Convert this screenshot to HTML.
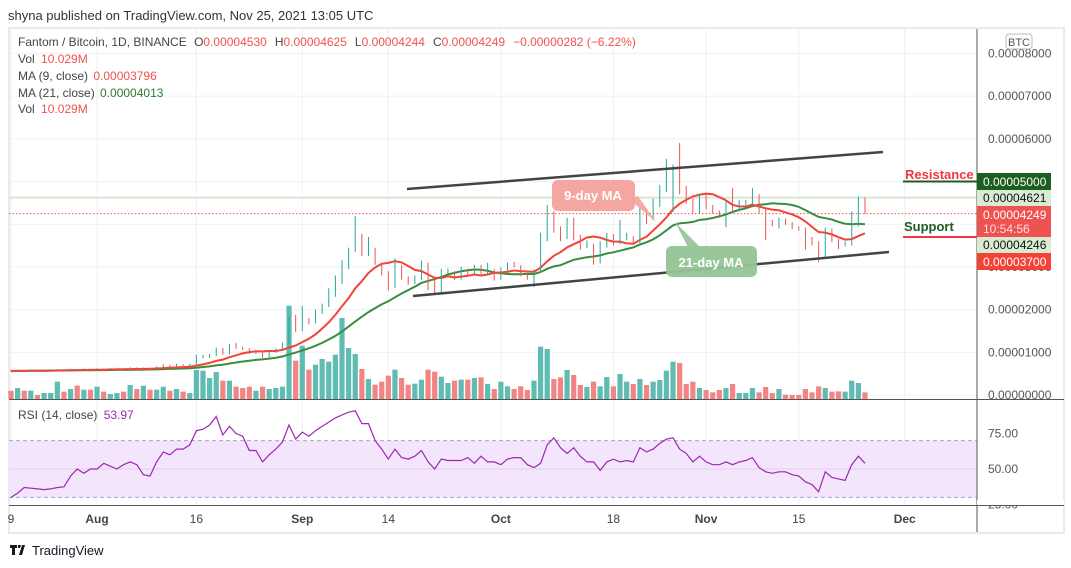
<!DOCTYPE html>
<html><head><meta charset="utf-8"><style>
html,body{margin:0;padding:0;background:#fff;}
svg{display:block;font-family:"Liberation Sans",sans-serif;}
</style></head><body>
<svg id="chart" width="1071" height="568" viewBox="0 0 1071 568" xmlns="http://www.w3.org/2000/svg">
<text x="8" y="20" font-size="13" fill="#333">shyna published on TradingView.com, Nov 25, 2021 13:05 UTC</text>
<rect x="9" y="28" width="1055" height="505" fill="#fff" stroke="#e8eaef" stroke-width="2"/>
<g id="grid"></g>
<g id="vol"></g>
<g id="guides"></g>
<g id="ma"></g>
<g id="candles"></g>
<g id="draw"></g>
<g id="rsi"></g>
<g id="axes"></g>
<g font-size="12">
<text x="18" y="46" fill="#444">Fantom / Bitcoin, 1D, BINANCE <tspan fill="#444" dx="4">O</tspan><tspan fill="#ef5350">0.00004530</tspan><tspan fill="#444" dx="8">H</tspan><tspan fill="#ef5350">0.00004625</tspan><tspan fill="#444" dx="8">L</tspan><tspan fill="#ef5350">0.00004244</tspan><tspan fill="#444" dx="8">C</tspan><tspan fill="#ef5350">0.00004249</tspan><tspan fill="#ef5350" dx="8">−0.00000282 (−6.22%)</tspan></text>
<text x="18" y="63" fill="#444">Vol <tspan fill="#ef5350" dx="3">10.029M</tspan></text>
<text x="18" y="80" fill="#444">MA (9, close) <tspan fill="#ef5350" dx="2">0.00003796</tspan></text>
<text x="18" y="97" fill="#444">MA (21, close) <tspan fill="#2e7d32" dx="2">0.00004013</tspan></text>
<text x="18" y="113" fill="#444">Vol <tspan fill="#ef5350" dx="3">10.029M</tspan></text>
<text x="18" y="419" fill="#444">RSI (14, close) <tspan fill="#9c27b0" dx="3">53.97</tspan></text>
</g>
<g>
<path d="M10 545h7v3h-2v7h-3v-7h-2z M18 545h3l-1 3h-2z M22 545h3l-3 10h-3z" fill="#131722"/>
<text x="32" y="555" font-size="13" fill="#131722">TradingView</text>
</g>
<g>
<line x1="407" y1="189" x2="883" y2="152" stroke="#444" stroke-width="2.5"/>
<line x1="413" y1="296" x2="889" y2="252" stroke="#444" stroke-width="2.5"/>
</g>
<g>
<path d="M630 200 L656 222 L638 196 Z" fill="#f6a19b" opacity="0.9"/>
<rect x="552" y="180" width="83" height="31" rx="6" fill="#f6a19b" opacity="0.95"/>
<text x="593" y="200" font-size="13" font-weight="bold" fill="#fff" text-anchor="middle">9-day MA</text>
</g>
<g>
<path d="M675 222 L700 247 L688 247 Z" fill="#93c493" opacity="0.9"/>
<rect x="666" y="246" width="91" height="31" rx="6" fill="#93c493" opacity="0.95"/>
<text x="711" y="267" font-size="13" font-weight="bold" fill="#fff" text-anchor="middle">21-day MA</text>
</g>
<g>
<line x1="903" x2="977" y1="181.5" y2="181.5" stroke="#1b5e20" stroke-width="2"/>
<text x="905" y="179" font-size="13" font-weight="bold" fill="#f23645">Resistance</text>
</g>
<g>
<line x1="903" x2="977" y1="237" y2="237" stroke="#f23645" stroke-width="2"/>
<text x="904" y="231" font-size="13" font-weight="bold" fill="#1b5e20">Support</text>
</g>
<g font-size="12">
<rect x="977" y="173" width="74" height="17" fill="#1b5e20"/><text x="983" y="186" fill="#fff">0.00005000</text>
<rect x="977" y="190" width="74" height="16" fill="#d9ebd3"/><text x="983" y="202" fill="#111">0.00004621</text>
<rect x="977" y="206" width="74" height="31" fill="#ef5350"/><text x="983" y="219" fill="#fff">0.00004249</text><text x="983" y="233" fill="#fde">10:54:56</text>
<rect x="977" y="237" width="74" height="16" fill="#d9ebd3"/><text x="983" y="249" fill="#111">0.00004246</text>
<rect x="977" y="253" width="74" height="17" fill="#f44336"/><text x="983" y="266" fill="#fff">0.00003700</text>
</g>
<g>
<rect x="1006" y="34" width="26" height="15" rx="3" fill="#fff" stroke="#bbb"/>
<text x="1019" y="46" font-size="11" fill="#555" text-anchor="middle">BTC</text>
</g>
</svg>
<script>
var dayLabels=["9","Aug","16","Sep","14","Oct","18","Nov","15","Dec"];
var dayIdx=[0,13,28,44,57,74,91,105,119,135];
var priceTicks=[0,1000,2000,3000,4000,5000,6000,7000,8000];
var closes=[560,570,565,575,570,580,585,590,580,595,590,600,595,605,600,610,615,610,630,620,625,615,650,690,670,700,680,700,870,880,920,1080,960,1170,1100,1080,980,1020,890,1000,1070,1190,1690,1520,1780,1700,1940,2100,2340,2650,3000,3400,3560,3320,3420,3090,2880,2530,3000,2740,2650,2740,3070,2690,2390,2860,2880,2750,2930,2820,3000,2860,2900,2740,2930,3040,3020,2810,2740,2900,3750,4260,3890,3680,4050,3700,3470,3500,3110,3510,3750,3560,3680,3700,3560,4330,4150,4430,4820,5200,5300,4800,4540,4290,4680,4400,4290,4220,4500,4330,4500,4520,4680,4290,4030,4000,4100,4030,3910,3890,3650,3540,3210,3890,3630,3510,3530,4000,4530,4249];
var opens=[570,560,570,565,575,570,580,585,590,580,595,590,600,595,605,600,610,615,610,630,620,625,615,650,690,670,700,680,700,870,880,920,1080,960,1170,1100,1080,980,1020,890,1000,1070,1190,1690,1520,1780,1700,1940,2100,2340,2650,3000,3400,3560,3320,3420,3090,2880,2530,3000,2740,2650,2740,3070,2690,2390,2860,2880,2750,2930,2820,3000,2860,2900,2740,2930,3040,3020,2810,2740,2900,3750,4260,3890,3680,4050,3700,3470,3500,3110,3510,3750,3560,3680,3700,3560,4330,4150,4430,4820,5200,5300,4800,4540,4290,4680,4400,4290,4220,4500,4330,4500,4520,4680,4290,4030,4000,4100,4030,3910,3890,3650,3540,3210,3890,3630,3510,3530,4000,4530];
var highs=[600,590,585,595,590,600,605,610,605,615,610,620,615,625,620,630,640,630,650,645,645,640,670,720,710,730,720,730,940,940,960,1110,1100,1200,1220,1130,1100,1060,1040,1030,1090,1230,1850,1880,2080,1800,2000,2140,2500,2800,3160,3450,4190,3770,3700,3450,3100,2900,3200,3050,2780,2800,3150,3100,2720,2950,2960,2900,3000,2960,3050,3050,3100,2950,2990,3100,3120,3040,2830,2950,3800,4450,4300,3950,4150,4150,3750,3620,3540,3600,3800,3770,4100,3800,3720,4400,4350,4600,4920,5530,5400,5900,4900,4600,4720,4700,4450,4320,4550,4850,4560,4570,4850,4700,4350,4100,4150,4130,4050,3950,3920,3700,3600,3920,3900,3650,3600,4300,4650,4625];
var lows=[545,550,550,555,555,560,565,570,565,570,575,580,580,585,585,590,595,595,600,605,605,600,605,640,655,660,665,670,690,860,870,910,940,950,1080,1050,960,960,870,880,990,1060,1180,1480,1500,1650,1680,1900,2060,2300,2600,2950,3350,3250,3250,3050,2800,2450,2500,2700,2580,2600,2700,2450,2350,2380,2800,2700,2700,2780,2800,2830,2830,2680,2700,2900,2990,2780,2700,2530,2880,3600,3800,3600,3650,3620,3400,3440,3050,3080,3450,3500,3530,3620,3520,3540,4000,4100,4400,4750,4280,4700,4480,4250,4250,4350,4250,4150,3930,4300,4300,4450,4480,4250,3630,3950,3900,3980,3880,3850,3400,3500,3110,3200,3580,3420,3480,3500,3950,4244];
var volumes=[25,33,25,25,12,18,18,52,22,30,40,28,28,37,22,15,18,22,42,30,40,28,28,37,25,30,22,18,87,85,63,81,55,55,37,33,37,25,37,30,33,37,280,115,160,88,103,120,112,133,243,153,135,90,60,43,52,70,88,63,43,46,58,88,82,67,48,55,58,58,63,65,45,30,52,38,30,38,27,55,157,150,60,65,87,72,42,36,52,38,66,38,75,52,45,60,42,52,57,85,112,108,45,52,33,27,20,27,33,45,18,18,33,20,36,18,30,13,12,12,30,20,38,33,22,23,22,55,48,20];
var rsiValues=[30,33,37,36.5,36,35.5,36,37,37.5,45,50,47,50,50,54,52,50,53,55,53,46,45,55,62,60,64,64,67,77,78,81,87,74,80,75,73,63,63,55,60,64,69,81,71,76,73,77,80,83,86,88,90,91,82,82,70,64,57,64,58,57,59,63,55,50,57,56,56,56,58,54,59,55,55,53,57,58,58,53,51,54,67,72,65,61,65,59,55,55,49,55,57,55,56,55,65,62,64,68,71,72,64,61,55,59,55,53,53,55,53,55,56,58,51,48,47,48,48,46,45,41,39,34,48,44,43,42,53,59,54];
var rsiTicks=[25,50,75];
var NS="http://www.w3.org/2000/svg";
function xAt(i){return 11+i*6.62;}
function yP(p){return 395-p*0.0427;}
function yR(r){return 469-(r-50)*1.42;}
function yV(v){return 399-v/3;}
function mk(par,tag,at){var e=document.createElementNS(NS,tag);for(var k in at)e.setAttribute(k,at[k]);document.getElementById(par).appendChild(e);return e;}
for(var t=0;t<priceTicks.length;t++){var g=mk('grid','line',{x1:9,x2:977,y1:yP(priceTicks[t]),y2:yP(priceTicks[t]),stroke:'#edf0f4','stroke-width':1});

}
for(var t=0;t<dayIdx.length;t++){var g=mk('grid','line',{x1:xAt(dayIdx[t]),x2:xAt(dayIdx[t]),y1:29,y2:505,stroke:'#edf0f4','stroke-width':1});

}
for(var i=0;i<volumes.length;i++){var up=closes[i]>=opens[i];var b=mk('vol','rect',{x:xAt(i)-2.6,y:yV(volumes[i]),width:5.2,height:399-yV(volumes[i]),fill:up?'#5fbcb3':'#f28583'});

}
var gl=mk('guides','line',{x1:9,x2:977,y1:yP(4621),y2:yP(4621),stroke:'#d6e9d0','stroke-width':2});


var pl=mk('guides','line',{x1:9,x2:977,y1:yP(4249),y2:yP(4249),stroke:'#ef5350','stroke-width':1,'stroke-dasharray':'1.5,2'});


function sma(n){var o=[];for(var i=0;i<closes.length;i++){var s=0,c=0;for(var j=Math.max(0,i-n+1);j<=i;j++){s+=closes[j];c++;}o.push(s/c);}return o;}
function line(arr,col,name){var d='';for(var i=0;i<arr.length;i++)d+=(i?'L':'M')+xAt(i).toFixed(1)+' '+yP(arr[i]).toFixed(1);var p=mk('ma','path',{d:d,fill:'none',stroke:col,'stroke-width':2});

}
line(sma(21),'#388e3c','ma21-line');
line(sma(9),'#f44336','ma9-line');
for(var i=0;i<closes.length;i++){var up=closes[i]>=opens[i];var col=up?'#26a69a':'#ef5350';var x=xAt(i);
var w=mk('candles','line',{x1:x,x2:x,y1:yP(highs[i]),y2:yP(lows[i]),stroke:col,'stroke-width':1});


var top=yP(Math.max(opens[i],closes[i])),bot=yP(Math.min(opens[i],closes[i]));
var r=mk('candles','rect',{x:x-2.4,y:top,width:4.8,height:Math.max(1,bot-top),fill:col});

}
var band=mk('rsi','rect',{x:9,y:yR(70),width:968,height:yR(30)-yR(70),fill:'#f3e6fc'});


[70,30].forEach(function(v){var l=mk('rsi','line',{x1:9,x2:977,y1:yR(v),y2:yR(v),stroke:'#b79bc9','stroke-dasharray':'4,3'});

});
var ml=mk('rsi','line',{x1:9,x2:977,y1:yR(50),y2:yR(50),stroke:'#e0cdec'});


var rd='';for(var i=0;i<rsiValues.length;i++)rd+=(i?'L':'M')+xAt(i).toFixed(1)+' '+yR(rsiValues[i]).toFixed(1);
var rp=mk('rsi','path',{d:rd,fill:'none',stroke:'#9c27b0','stroke-width':1.2});


var a1=mk('axes','line',{x1:977,x2:977,y1:29,y2:532,stroke:'#555','stroke-width':1});


var a2=mk('axes','line',{x1:9,x2:1064,y1:399.5,y2:399.5,stroke:'#555','stroke-width':1});


var a3=mk('axes','line',{x1:9,x2:1064,y1:505.5,y2:505.5,stroke:'#555','stroke-width':1});


for(var t=0;t<priceTicks.length;t++){var tx=mk('axes','text',{x:988,y:yP(priceTicks[t])+4,'font-size':12,fill:'#555'});tx.textContent=(priceTicks[t]/1e8).toFixed(8);

}
for(var t=0;t<rsiTicks.length;t++){var tx=mk('axes','text',{x:988,y:yR(rsiTicks[t])+4,'font-size':12,fill:'#555'});tx.textContent=rsiTicks[t].toFixed(2);

}
var wb=mk('axes','rect',{x:977,y:500,width:87,height:5,fill:'#fff'});


for(var t=0;t<dayLabels.length;t++){var bold=isNaN(+dayLabels[t]);var tx=mk('axes','text',{x:xAt(dayIdx[t]),y:523,'font-size':12,fill:'#444','text-anchor':'middle','font-weight':bold?'bold':'normal'});tx.textContent=dayLabels[t];

}
</script>
</body></html>
